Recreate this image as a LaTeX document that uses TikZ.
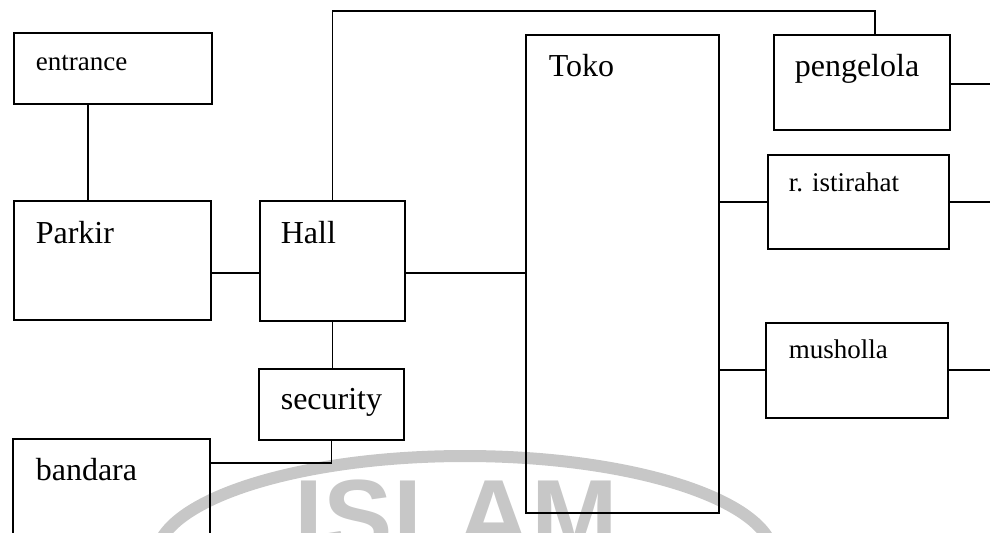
\documentclass[tikz,border=0pt]{standalone}
\usepackage{fontspec}
\setmainfont{Liberation Serif}
\newfontfamily\wmfont{Liberation Sans Bold}
\usetikzlibrary{fit}

\begin{document}
\begin{tikzpicture}[x=0.5pt, y=-0.5pt, line width=0.8pt,
    room/.style={draw, inner sep=0pt, fit={#1}},
    bigtxt/.style={anchor=base west, inner sep=0pt, font=\fontsize{16}{18}\selectfont},
    smalltxt/.style={anchor=base west, inner sep=0pt, font=\fontsize{13.5}{15}\selectfont},
    wm/.style={black!22}]
    \useasboundingbox (0,0) rectangle (990,532);
    \clip (0,0) rectangle (990,532);

    % faint watermark of the scan
    \draw[wm, line width=6pt] (465,558) ellipse [x radius=309, y radius=102];
    \node[wm, anchor=base west, inner sep=0pt, font=\wmfont\fontsize{52}{60}\selectfont] (wmtxt) at (294,552) {ISLAM};

    % rooms
    \node[room={(14,33) (212,104)}] (entrance) {};
    \node[room={(14,201) (211,320)}] (parkir) {};
    \node[room={(260,201) (405,321)}] (hall) {};
    \node[room={(259,369) (404,440)}] (secu) {};
    \node[room={(13,439) (210,560)}] (bandara) {};
    \node[room={(526,35) (719,513)}] (toko) {};
    \node[room={(774,35) (950,130)}] (peng) {};
    \node[room={(768,155) (949,249)}] (istirahat) {};
    \node[room={(766,323) (948,418)}] (musholla) {};

    % labels
    \node[smalltxt] (entrancetxt) at (35,70) {entrance};
    \node[bigtxt] (parkirtxt) at (35,243) {Parkir};
    \node[bigtxt] (halltxt) at (280,243) {Hall};
    \node[bigtxt] (secutxt) at (280,409) {security};
    \node[bigtxt] (bandaratxt) at (35,480) {bandara};
    \node[bigtxt] (tokotxt) at (548,76) {Toko};
    \node[bigtxt] (pengtxt) at (794,76) {pengelola};
    \node[smalltxt] (istirahattxt) at (788,191) {r. istirahat};
    \node[smalltxt] (mushollatxt) at (788,358) {musholla};

    % helper rows and free ends
    \coordinate (colA) at (88,0);
    \coordinate (colB) at (875,0);
    \coordinate (topline) at (875,11);
    \coordinate (rowA) at (0,273);
    \coordinate (rowB) at (0,463);
    \coordinate (rowC) at (0,202);
    \coordinate (rowD) at (0,370);
    \coordinate (pengout) at (990,84);
    \coordinate (istirahatout) at (990,202);
    \coordinate (mushollaout) at (990,370);

    % connectors
    \draw (colA |- entrance.south) -- (colA |- parkir.north);
    \draw (hall.north) |- (topline) -- (colB |- peng.north);
    \draw (parkir.east |- rowA) -- (hall.west |- rowA);
    \draw (hall.east |- rowA) -- (toko.west |- rowA);
    \draw (hall.south) -- (hall.south |- secu.north);
    \draw (secu.south) |- (bandara.east |- rowB);
    \draw (toko.east |- rowC) -- (istirahat.west |- rowC);
    \draw (toko.east |- rowD) -- (musholla.west |- rowD);
    \draw (peng.east |- pengout) -- (pengout);
    \draw (istirahat.east |- istirahatout) -- (istirahatout);
    \draw (musholla.east |- mushollaout) -- (mushollaout);
\end{tikzpicture}
\end{document}
